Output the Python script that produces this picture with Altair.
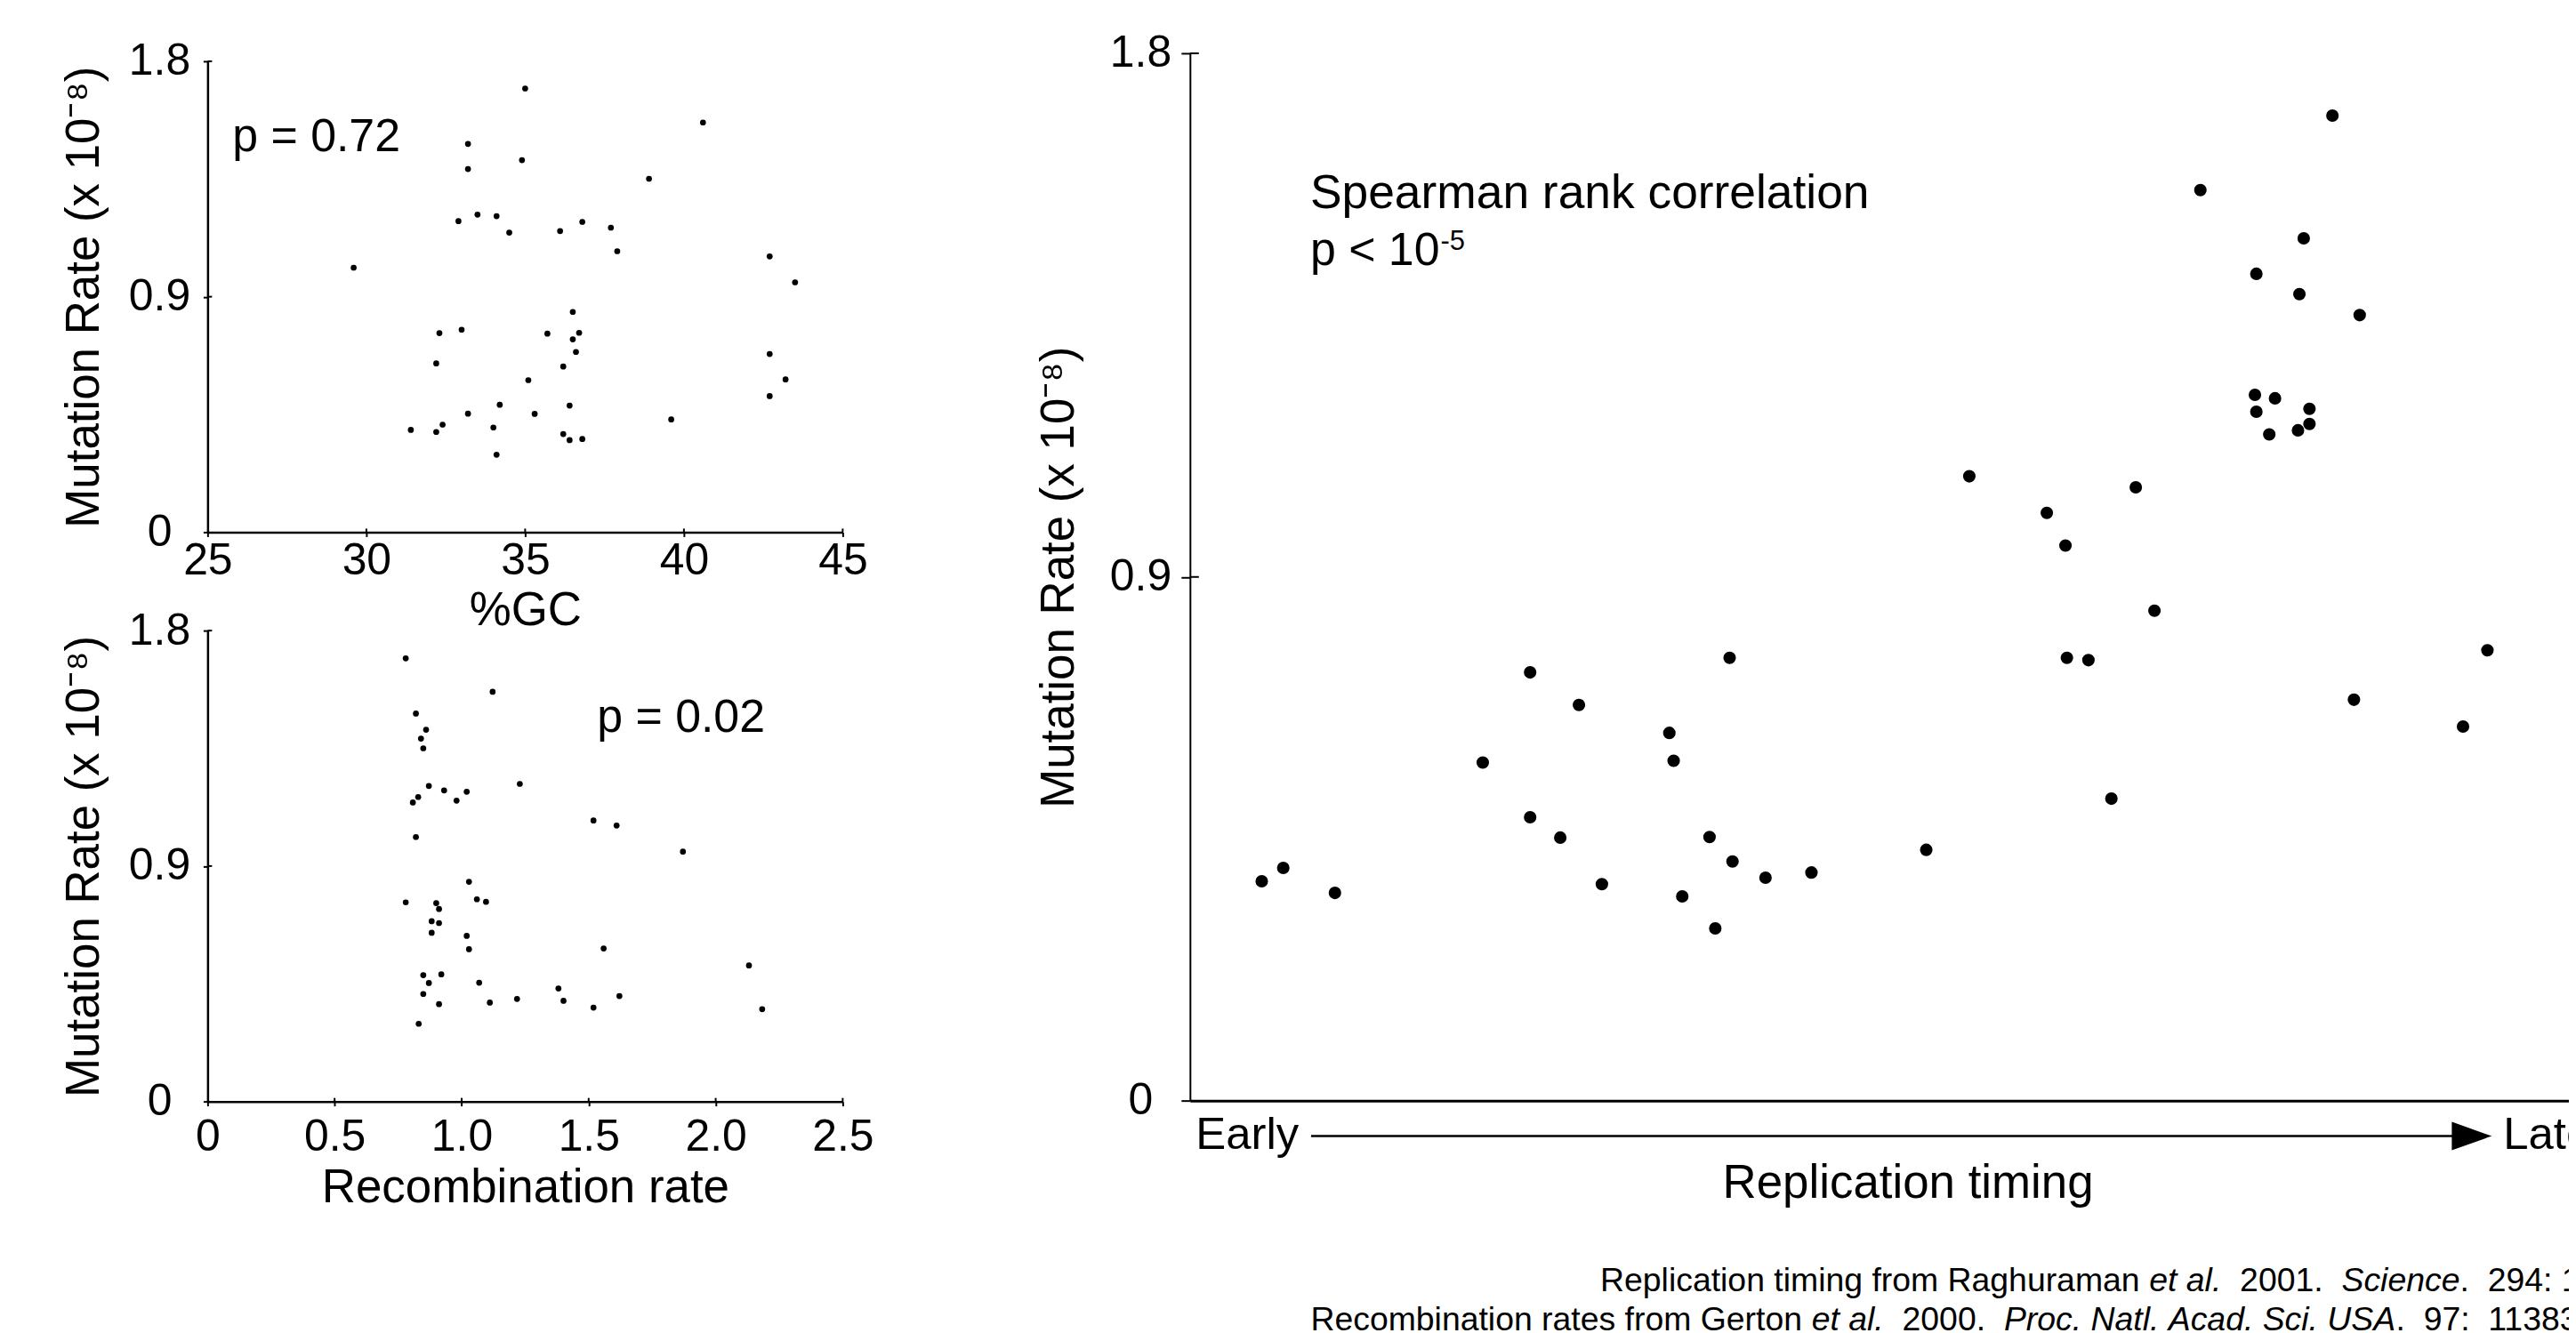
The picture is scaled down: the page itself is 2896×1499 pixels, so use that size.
import altair as alt
import pandas as pd

FONT = "Liberation Sans"

# ---------------- data ----------------
# Top-left panel: %GC vs mutation rate
gc_pct = [35.0, 40.6, 33.2, 34.9, 33.2, 38.9, 33.5, 34.1, 32.9, 36.8, 37.7, 34.5, 36.1, 37.9,
          42.7, 29.6, 43.5, 36.5, 33.0, 32.3, 35.7, 36.7, 36.5, 36.6, 42.7, 32.2, 36.2, 43.2,
          35.1, 42.7, 34.2, 36.4, 33.2, 35.3, 39.6, 31.4, 32.4, 32.2, 34.0, 36.2, 36.4, 36.8, 34.1]
gc_mut = [1.696, 1.566, 1.484, 1.422, 1.388, 1.351, 1.214, 1.208, 1.189, 1.186, 1.164, 1.145,
          1.151, 1.074, 1.054, 1.011, 0.955, 0.842, 0.774, 0.761, 0.759, 0.762, 0.737, 0.689,
          0.681, 0.645, 0.633, 0.584, 0.581, 0.520, 0.487, 0.484, 0.453, 0.452, 0.431, 0.391,
          0.411, 0.383, 0.400, 0.375, 0.352, 0.356, 0.296]

# Bottom-left panel: recombination rate vs mutation rate
rec_rate = [0.780, 1.122, 0.820, 0.860, 0.840, 0.849, 1.229, 0.871, 0.931, 1.020, 0.829, 0.808,
            0.980, 1.519, 1.610, 0.820, 1.871, 1.029, 0.780, 0.900, 1.060, 1.096, 0.911, 0.882,
            0.911, 0.882, 1.020, 1.559, 1.029, 2.131, 0.849, 0.920, 0.871, 1.069, 1.381, 0.849,
            1.621, 1.218, 1.401, 1.111, 0.911, 1.519, 2.183, 0.831]
rec_mut = [1.694, 1.566, 1.483, 1.421, 1.387, 1.350, 1.214, 1.206, 1.189, 1.184, 1.164, 1.143,
           1.150, 1.074, 1.055, 1.011, 0.955, 0.840, 0.761, 0.758, 0.773, 0.763, 0.736, 0.689,
           0.682, 0.645, 0.633, 0.585, 0.582, 0.520, 0.483, 0.486, 0.453, 0.454, 0.432, 0.411,
           0.403, 0.392, 0.385, 0.378, 0.372, 0.359, 0.353, 0.297]

# Main panel: replication timing (relative, early=0) vs mutation rate
rep_timing = [79.6, 70.4, 77.6, 74.3, 77.3, 81.5, 74.2, 75.6, 74.3, 78.0, 78.0, 77.2, 75.2,
              54.3, 65.9, 59.7, 61.0, 67.2, 61.1, 62.6, 90.4, 37.6, 23.7, 27.1, 81.1, 33.4,
              88.7, 33.7, 20.4, 64.2, 23.7, 25.8, 36.2, 51.3, 37.8, 43.3, 40.1, 6.5, 5.0,
              28.7, 10.1, 34.3, 36.6]
rep_mut = [1.693, 1.565, 1.482, 1.421, 1.386, 1.350, 1.213, 1.207, 1.184, 1.189, 1.163, 1.152,
           1.145, 1.073, 1.054, 1.010, 0.954, 0.842, 0.761, 0.757, 0.774, 0.761, 0.736, 0.680,
           0.689, 0.632, 0.643, 0.584, 0.581, 0.519, 0.487, 0.452, 0.453, 0.431, 0.411, 0.392,
           0.383, 0.400, 0.377, 0.372, 0.357, 0.351, 0.296]

mut_ticks = [0, 0.9, 1.8]
gc_ticks = [25, 30, 35, 40, 45]
rec_ticks = [0, 0.5, 1.0, 1.5, 2.0, 2.5]

Y_TITLE = "Mutation Rate (x 10\u207b\u2078)"

footer1 = [("Replication timing from Raghuraman ", "normal"), ("et al.", "italic"),
           ("  2001.  ", "normal"), ("Science", "italic"), (".  294: 115-121", "normal")]
footer2 = [("Recombination rates from Gerton ", "normal"), ("et al.", "italic"),
           ("  2000.  ", "normal"), ("Proc. Natl. Acad. Sci. USA", "italic"),
           (".  97:  11383-11390", "normal")]

# ---------------- layout ----------------
LEFT_W, LEFT_H = 716, 531
MAIN_W, MAIN_H = 1618, 1181
GAP_X = 391.5          # gap between left plots and main plot
GAP_Y = 111            # gap between the two left plots
PAGE_W, PAGE_H = 2888, 1491
PAD_L, PAD_T = 226, 50

# Arial / Liberation Sans advance widths (per 1000 em)
AW = {' ': 278, '.': 278, ':': 278, '-': 333, '<': 584,
      'A': 667, 'G': 778, 'N': 722, 'P': 667, 'R': 722, 'S': 667, 'U': 722,
      'a': 556, 'b': 556, 'c': 500, 'd': 556, 'e': 556, 'f': 278, 'g': 556, 'h': 556,
      'i': 222, 'k': 500, 'l': 222, 'm': 833, 'n': 556, 'o': 556, 'p': 556, 'r': 333,
      's': 500, 't': 278, 'u': 556, 'x': 500, 'y': 500}
for d in "0123456789":
    AW[d] = 556


def text_width(s, fs):
    return sum(AW.get(c, 556) for c in s) / 1000.0 * fs


def mx(px):
    return px / MAIN_W * 100.0


def my(px):
    return 1.8 * (1 - px / MAIN_H)


def axis(**kw):
    base = dict(domainColor="black", tickColor="black", labelColor="black", titleColor="black",
                labelFont=FONT, titleFont=FONT, titleFontWeight="normal", grid=False,
                labelFontSize=50, titleFontSize=53, labelFlush=False, labelOverlap=False,
                tickWidth=2, domainWidth=2.5)
    base.update(kw)
    return alt.Axis(**base)


ys_scale = alt.Scale(domain=[0, 1.8], nice=False, zero=False)
lab01 = "datum.value == 0 ? '0' : format(datum.value, '.1f')"


def left_y_axis():
    return axis(values=mut_ticks, labelExpr=lab01, tickSize=5, labelPadding=49.5,
                labelAlign="center", title=Y_TITLE, titlePadding=22.75)


def txt(df, xscale, fs, style="normal"):
    return alt.Chart(df).mark_text(font=FONT, fontSize=fs, fontStyle=style, align="left",
                                   baseline="alphabetic", color="black").encode(
        x=alt.X("x:Q", scale=xscale),
        y=alt.Y("y:Q", scale=ys_scale),
        text="text:N")


def inner_y_ticks(xscale, x0, x1, values):
    """tick stubs pointing into the plot (the reference's ticks cross the axis line)"""
    df = pd.DataFrame({"y": values, "x": [x0] * len(values), "x2": [x1] * len(values)})
    return alt.Chart(df).mark_rule(color="black", strokeWidth=2).encode(
        x=alt.X("x:Q", scale=xscale), x2="x2:Q", y=alt.Y("y:Q", scale=ys_scale))


def inner_x_ticks(xscale, values, y1):
    df = pd.DataFrame({"x": values, "y": [0.0] * len(values), "y2": [y1] * len(values)})
    return alt.Chart(df).mark_rule(color="black", strokeWidth=2).encode(
        x=alt.X("x:Q", scale=xscale), y=alt.Y("y:Q", scale=ys_scale), y2="y2:Q")


# ---- top-left ----
gc_scale = alt.Scale(domain=[25, 45], nice=False, zero=False)
gc_df = pd.DataFrame({"gc": gc_pct, "m": gc_mut})
top_pts = alt.Chart(gc_df).mark_circle(size=45, color="black", opacity=1).encode(
    x=alt.X("gc:Q", scale=gc_scale,
            axis=axis(values=gc_ticks, tickSize=5, labelPadding=2, title="%GC", titlePadding=5)),
    y=alt.Y("m:Q", scale=ys_scale, axis=left_y_axis()))
top_txt = txt(pd.DataFrame({"x": [25.78], "y": [1.458], "text": ["p = 0.72"]}), gc_scale, 52)
top_ty = inner_y_ticks(gc_scale, 25, 25 + 5 / LEFT_W * 20, mut_ticks[1:])
top_tx = inner_x_ticks(gc_scale, gc_ticks[1:], 4 / LEFT_H * 1.8)
top = alt.layer(top_pts, top_txt, top_ty, top_tx).properties(width=LEFT_W, height=LEFT_H)

# ---- bottom-left ----
rec_scale = alt.Scale(domain=[0, 2.5], nice=False, zero=False)
rec_df = pd.DataFrame({"r": rec_rate, "m": rec_mut})
bot_pts = alt.Chart(rec_df).mark_circle(size=45, color="black", opacity=1).encode(
    x=alt.X("r:Q", scale=rec_scale,
            axis=axis(values=rec_ticks, labelExpr=lab01, tickSize=5, labelPadding=10,
                      title="Recombination rate", titlePadding=6)),
    y=alt.Y("m:Q", scale=ys_scale, axis=left_y_axis()))
bot_txt = txt(pd.DataFrame({"x": [1.533], "y": [1.414], "text": ["p = 0.02"]}), rec_scale, 52)
bot_ty = inner_y_ticks(rec_scale, 0, 5 / LEFT_W * 2.5, mut_ticks[1:])
bot_tx = inner_x_ticks(rec_scale, rec_ticks[1:], 4 / LEFT_H * 1.8)
bottom = alt.layer(bot_pts, bot_txt, bot_ty, bot_tx).properties(width=LEFT_W, height=LEFT_H)

spacer = alt.Chart(pd.DataFrame({"a": [0]})).mark_point(opacity=0).encode(
    x=alt.value(0), y=alt.value(0)).properties(width=LEFT_W, height=9)

left = alt.vconcat(spacer, alt.vconcat(top, bottom, spacing=GAP_Y, bounds="flush"),
                   spacing=0, bounds="flush")

# ---- main ----
xs_main = alt.Scale(domain=[0, 100], nice=False, zero=False)
main_df = pd.DataFrame({"t": rep_timing, "m": rep_mut})
main_pts = alt.Chart(main_df).mark_circle(size=200, color="black", opacity=1).encode(
    x=alt.X("t:Q", scale=xs_main,
            axis=axis(ticks=False, labels=False, domainWidth=3, title="Replication timing",
                      titlePadding=67)),
    y=alt.Y("m:Q", scale=ys_scale,
            axis=axis(values=mut_ticks, labelExpr=lab01, tickSize=10, labelPadding=46,
                      labelAlign="center", title=Y_TITLE, titlePadding=29.75, domainWidth=2)))
main_ty = inner_y_ticks(xs_main, 0, mx(10), mut_ticks[1:])

spear = txt(pd.DataFrame({"x": [mx(135.5)], "y": [my(175)],
                          "text": ["Spearman rank correlation"]}), xs_main, 53.5)
pless = txt(pd.DataFrame({"x": [mx(135.5)], "y": [my(239)], "text": ["p < 10"]}), xs_main, 52)
sup = txt(pd.DataFrame({"x": [mx(135.5 + text_width("p < 10", 52) + 1)], "y": [my(222)],
                        "text": ["-5"]}), xs_main, 31)

arrow_line = alt.Chart(pd.DataFrame({"x": [mx(136.5)], "x2": [mx(1424)], "y": [my(1221)]})).mark_rule(
    color="black", strokeWidth=2.5).encode(
    x=alt.X("x:Q", scale=xs_main), x2="x2:Q",
    y=alt.Y("y:Q", scale=ys_scale))
arrow_head = alt.Chart(pd.DataFrame({"x": [mx(1445)], "y": [my(1221)]})).mark_point(
    shape="M -1 -0.71 L 1 0 L -1 0.71 Z", filled=True, size=2025, color="black", opacity=1,
    strokeWidth=0).encode(
    x=alt.X("x:Q", scale=xs_main), y=alt.Y("y:Q", scale=ys_scale))
ends = txt(pd.DataFrame({"x": [mx(6.5), mx(1480.5)], "y": [my(1235), my(1235)],
                         "text": ["Early", "Late"]}), xs_main, 51)

FOOT_FS = 37.5
rows = []
for segs, x0, base in [(footer1, 462.5, 1396), (footer2, 136, 1440)]:
    off = 0.0
    for s, st in segs:
        lead = len(s) - len(s.lstrip(" "))
        core = s.strip(" ")
        rows.append({"x": mx(x0 + off + text_width(" " * lead, FOOT_FS)), "y": my(base),
                     "text": core.replace(" ", "\u00a0"), "style": st})
        off += text_width(s, FOOT_FS)
foot_df = pd.DataFrame(rows)
foot_n = txt(foot_df[foot_df["style"] == "normal"], xs_main, FOOT_FS)
foot_i = txt(foot_df[foot_df["style"] == "italic"], xs_main, FOOT_FS, style="italic")

main = alt.layer(main_pts, main_ty, spear, pless, sup, arrow_line, arrow_head, ends,
                 foot_n, foot_i).properties(width=MAIN_W, height=MAIN_H)

# with flush bounds the nested left column counts as zero width, so the plot width is added here.
# autosize "none": the figure is cut at the window edge, like the reference.
chart = alt.hconcat(left, main, spacing=LEFT_W + GAP_X, bounds="flush").properties(
    autosize=alt.AutoSizeParams(type="none"),
    padding={"left": PAD_L, "top": PAD_T, "right": PAGE_W - PAD_L, "bottom": PAGE_H - PAD_T}
).configure(font=FONT).configure_view(stroke=None)

chart.save("out.html", embed_options={"renderer": "svg", "actions": False})
